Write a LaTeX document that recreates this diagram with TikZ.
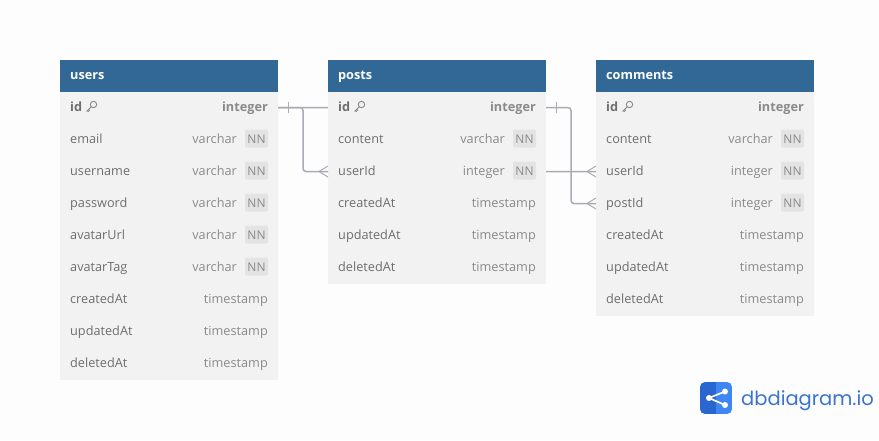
\documentclass[tikz,border=0pt]{standalone}
\usepackage{fontspec}
\setmainfont{Open Sans}
\newfontfamily\logofont{Poppins}
\definecolor{pagebg}{HTML}{FDFDFD}
\definecolor{headbg}{HTML}{316896}
\definecolor{rowbg}{HTML}{F2F2F2}
\definecolor{txt}{HTML}{6E6E6E}
\definecolor{typetxt}{HTML}{8A8A8A}
\definecolor{badge}{HTML}{E3E3E3}
\definecolor{wire}{HTML}{ABABB5}
\definecolor{logoA}{HTML}{2A66D0}
\definecolor{logoB}{HTML}{3F86F2}
\definecolor{logoT}{HTML}{3A74CF}
\tikzset{
  x=1pt,y=-1pt,
  rowbox/.style={rectangle,fill=rowbg,minimum width=218pt,minimum height=32pt,inner sep=0,outer sep=0,anchor=north west},
  headbox/.style={rectangle,fill=headbg,minimum width=218pt,minimum height=32pt,inner sep=0,outer sep=0,anchor=north west},
  headtxt/.style={text=white,font=\fontsize{12.7}{15}\selectfont\bfseries,anchor=base west,inner sep=0},
  fieldtxt/.style={text=txt,font=\fontsize{12.7}{15}\selectfont,anchor=base west,inner sep=0},
  typelabel/.style={text=typetxt,font=\fontsize{12.7}{15}\selectfont,anchor=base east,inner sep=0},
  nnbadge/.style={rectangle,fill=badge,rounded corners=2pt,minimum width=23pt,minimum height=18pt,inner sep=0,outer sep=0},
  nntxt/.style={text=typetxt,font=\fontsize{12}{14}\selectfont,anchor=base,inner sep=0},
  wireline/.style={draw=wire,line width=1.5pt,rounded corners=3pt},
  crow/.style={draw=wire,line width=1pt},
  keyicon/.style={draw=typetxt,line width=.9pt,fill=none},
}
% #1 table prefix, #2 x, #3 title
\newcommand{\tablehead}[3]{%
  \node[headbox] (#1head) at (#2,60) {};
  \node[headtxt] (#1title) at (#2+10,79) {#3};
}
% #1 prefix, #2 x, #3 row index from 1, #4 name, #5 type
\newcommand{\plainrow}[5]{%
  \node[rowbox] (#1#3) at (#2,60+32*#3) {};
  \node[fieldtxt] (#1#3n) at (#2+10,79+32*#3) {#4};
  \node[typelabel] (#1#3t) at (#2+208,79+32*#3) {#5};
}
\newcommand{\nnrow}[5]{%
  \node[rowbox] (#1#3) at (#2,60+32*#3) {};
  \node[fieldtxt] (#1#3n) at (#2+10,79+32*#3) {#4};
  \node[nnbadge] (#1#3b) at (#2+196.5,78+32*#3-3.5) {};
  \node[nntxt] (#1#3c) at (#2+196.5,79+32*#3) {NN};
  \node[typelabel] (#1#3t) at (#2+177,79+32*#3) {#5};
}
\newcommand{\idrow}[2]{%
  \node[rowbox] (#11) at (#2,92) {};
  \node[fieldtxt,font=\fontsize{12.7}{15}\selectfont\bfseries] (#11n) at (#2+10,111) {id};
  \node[typelabel,font=\fontsize{12.7}{15}\selectfont\bfseries] (#11t) at (#2+208,111) {integer};
  \draw[keyicon] (#2+33.5,104.5) circle (3.2pt);
  \draw[keyicon] (#2+31.2,106.8) -- (#2+27,111) -- (#2+29,111.4) (#2+28.5,109.5) -- (#2+30,110.5);
}
\begin{document}
\begin{tikzpicture}
\useasboundingbox (0,0) rectangle (879,440);
\fill[pagebg] (0,0) rectangle (879,440);

% tables: rows first so that connectors can use their names
\tablehead{u}{60}{users}
\idrow{u}{60}
\nnrow{u}{60}{2}{email}{varchar}
\nnrow{u}{60}{3}{username}{varchar}
\nnrow{u}{60}{4}{password}{varchar}
\nnrow{u}{60}{5}{avatarUrl}{varchar}
\nnrow{u}{60}{6}{avatarTag}{varchar}
\plainrow{u}{60}{7}{createdAt}{timestamp}
\plainrow{u}{60}{8}{updatedAt}{timestamp}
\plainrow{u}{60}{9}{deletedAt}{timestamp}

% connector passing behind the posts table
\draw[wireline] (278,107.5) -- (437,107.5) -- (437,171.5) -- (596,171.5);

\tablehead{p}{328}{posts}
\idrow{p}{328}
\nnrow{p}{328}{2}{content}{varchar}
\nnrow{p}{328}{3}{userId}{integer}
\plainrow{p}{328}{4}{createdAt}{timestamp}
\plainrow{p}{328}{5}{updatedAt}{timestamp}
\plainrow{p}{328}{6}{deletedAt}{timestamp}

\tablehead{c}{596}{comments}
\idrow{c}{596}
\nnrow{c}{596}{2}{content}{varchar}
\nnrow{c}{596}{3}{userId}{integer}
\nnrow{c}{596}{4}{postId}{integer}
\plainrow{c}{596}{5}{createdAt}{timestamp}
\plainrow{c}{596}{6}{updatedAt}{timestamp}
\plainrow{c}{596}{7}{deletedAt}{timestamp}

% users.id -> posts.userId
\coordinate (m1) at (303,107.5);
\coordinate (m1b) at (303,171.5);
\draw[wireline] (u1.east |- m1) -- (m1) -- (m1b) -- (p3.west |- m1b);
% posts.id -> comments.postId
\coordinate (m2) at (571,107.5);
\coordinate (m2b) at (571,203.5);
\draw[wireline] (p1.east |- m2) -- (m2) -- (m2b) -- (c4.west |- m2b);

% one-side bars
\draw[crow] (288,102) -- (288,113);
\draw[crow] (556,102) -- (556,113);
% crow's feet
\draw[crow] (328,166) -- (319,171.5) -- (328,177);
\draw[crow] (596,166) -- (587,171.5) -- (596,177);
\draw[crow] (596,198) -- (587,203.5) -- (596,209);

% logo
\begin{scope}
\clip[rounded corners=5pt] (700,382) rectangle (732,414);
\fill[logoA] (700,382) rectangle (716,414);
\fill[logoB] (716,382) rectangle (732,414);
\end{scope}
\draw[white,line width=1.7pt] (725,391.5) -- (709,398) -- (725,405);
\fill[white] (709,398) circle (3pt) (725,391.5) circle (3pt) (725,405) circle (3pt);
\node[text=logoT,font=\logofont\fontsize{19.5}{24}\selectfont,anchor=base west,inner sep=0] (logotext) at (741,405) {dbdiagram.io};
\end{tikzpicture}
\end{document}
